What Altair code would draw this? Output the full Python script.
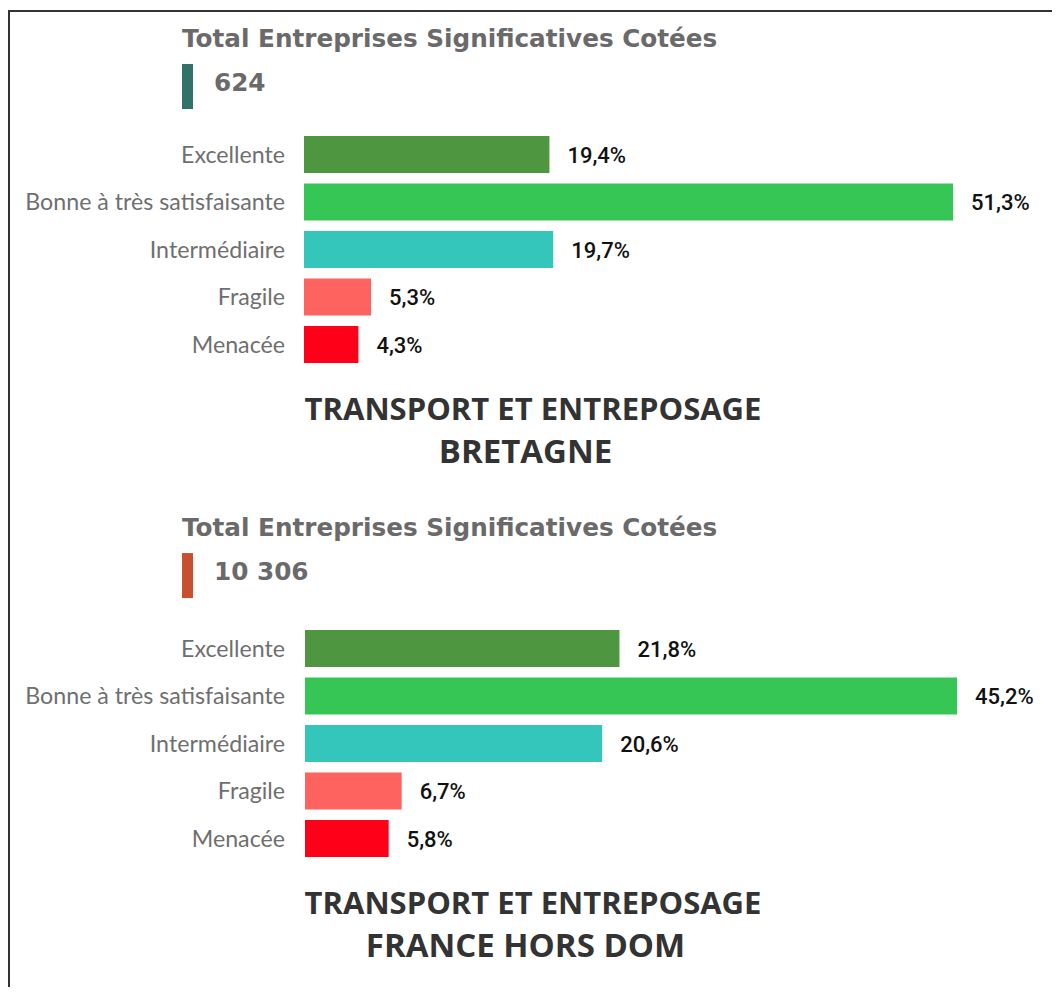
import altair as alt
import pandas as pd

# ---- data ----
categories = ["Excellente", "Bonne à très satisfaisante", "Intermédiaire", "Fragile", "Menacée"]
cat_colors = ["#4f9640", "#35c655", "#35c6bb", "#ff6360", "#ff0019"]
bretagne_values = [19.4, 51.3, 19.7, 5.3, 4.3]
france_values = [21.8, 45.2, 20.6, 6.7, 5.8]
header_text = "Total Entreprises Significatives Cotées"
bretagne_total = "624"
france_total = "10 306"
bretagne_title = ["TRANSPORT ET ENTREPOSAGE", "BRETAGNE"]
france_title = ["TRANSPORT ET ENTREPOSAGE", "FRANCE HORS DOM"]

W, H = 1044, 979


def fmt(v):
    return f"{v:.1f}".replace(".", ",") + "%"


def panel(values, total, mark_color, title_lines, y_off, x_range):
    df = pd.DataFrame({
        "category": categories,
        "value": values,
        "label": [fmt(v) for v in values],
    })
    base = alt.Chart(df)
    y = alt.Y("category:N", sort=categories, axis=None,
              scale=alt.Scale(domain=categories,
                              range=[122.8 + y_off, 360.3 + y_off],
                              paddingInner=0.221, paddingOuter=0.11))
    x = alt.X("value:Q", axis=None,
              scale=alt.Scale(domain=[0, max(values)], range=x_range, nice=False, zero=True))
    bars = base.mark_bar().encode(
        x=x, y=y,
        color=alt.Color("category:N", legend=None,
                        scale=alt.Scale(domain=categories, range=cat_colors)),
    )
    vals = base.mark_text(align="left", baseline="middle", dx=18, dy=1, font="Roboto",
                          fontSize=22, fontWeight=500, color="#111111").encode(
        x=x, y=y, text="label:N")
    cats = base.mark_text(align="right", baseline="middle", dy=1, font="Lato",
                          fontSize=23.2, color="#6f6f6f").encode(
        x=alt.value(277), y=y, text="category:N")

    hdr = pd.DataFrame({"header": [header_text], "total": [total]})
    hbase = alt.Chart(hdr)
    hy = y_off * 0.99
    head = hbase.mark_text(align="left", baseline="alphabetic", font="DejaVu Sans",
                           fontWeight="bold", fontSize=24.7, color="#6a6a6a").encode(
        x=alt.value(174), y=alt.value(39 + hy), text="header:N")
    tot = hbase.mark_text(align="left", baseline="alphabetic", font="DejaVu Sans",
                          fontWeight="bold", fontSize=24.7, color="#6a6a6a").encode(
        x=alt.value(206), y=alt.value(83 + hy), text="total:N")
    swatch = hbase.mark_rect(color=mark_color).encode(
        x=alt.value(174), x2=alt.value(185),
        y=alt.value(56 + hy), y2=alt.value(101 + hy))

    tdf = pd.DataFrame({"line": title_lines, "row": list(range(len(title_lines)))})
    ttl = alt.Chart(tdf).mark_text(align="center", baseline="alphabetic", font="Open Sans",
                                   fontWeight="bold", color="#333333").encode(
        x=alt.X("row:Q", axis=None,
                scale=alt.Scale(domain=[0, 1], range=[525, 517.5], nice=False, zero=False)),
        y=alt.Y("row:Q", axis=None,
                scale=alt.Scale(domain=[0, 1], range=[412 + y_off, 455 + y_off], nice=False, zero=False)),
        size=alt.Size("row:Q", legend=None,
                      scale=alt.Scale(domain=[0, 1], range=[31, 33], nice=False, zero=False)),
        text="line:N")
    return [bars, vals, cats, head, tot, swatch, ttl]


layers1 = panel(bretagne_values, bretagne_total, "#317369", bretagne_title, 0, [296, 945])
layers2 = panel(france_values, france_total, "#c8502f", france_title, 494, [297, 949])

frame_df = pd.DataFrame({"k": [0]})
top_line = alt.Chart(frame_df).mark_rule(color="#333333", strokeWidth=2).encode(
    x=alt.value(0), x2=alt.value(W), y=alt.value(3))
left_line = alt.Chart(frame_df).mark_rule(color="#333333", strokeWidth=2).encode(
    x=alt.value(1), y=alt.value(3), y2=alt.value(H))

chart = alt.layer(top_line, left_line, *layers1, *layers2).resolve_scale(
    x="independent", y="independent", color="independent", size="independent"
).properties(
    width=W, height=H, padding=0,
    autosize=alt.AutoSizeParams(type="none"),
).configure_view(strokeWidth=0)

chart.save("out.html", embed_options={"renderer": "svg", "actions": False})
